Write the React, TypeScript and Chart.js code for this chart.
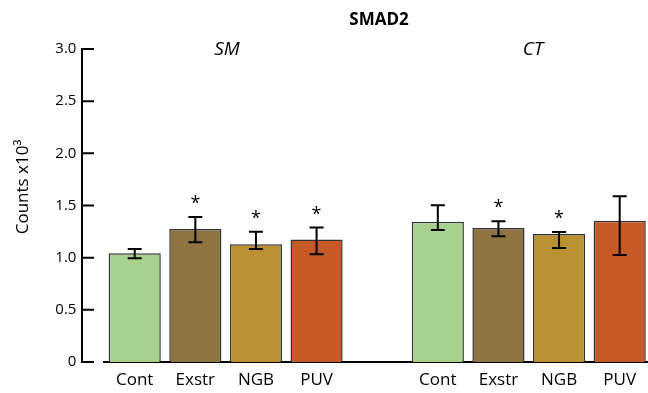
import React, { useEffect, useRef } from "react";
import { Chart, registerables } from "chart.js";

Chart.register(...registerables);

const chartTitle = "SMAD2";
const groupNames = ["SM", "CT"];
const treatments = ["Cont", "Exstr", "NGB", "PUV"];
const treatmentColors = ["#a9d18e", "#8f7443", "#bb9231", "#c55a28"];

const smValues = [1.042, 1.275, 1.128, 1.173];
const ctValues = [1.345, 1.285, 1.227, 1.355];
const smErrHigh = [1.083, 1.39, 1.249, 1.288];
const ctErrHigh = [1.502, 1.349, 1.246, 1.589];
const smErrLow = [0.994, 1.148, 1.083, 1.033];
const ctErrLow = [1.266, 1.205, 1.093, 1.026];
const smStars = [false, true, true, true];
const ctStars = [false, true, true, false];

const yMin = 0;
const yMax = 3;
const yStep = 0.5;
const yTitle = "Counts x10\u00B3";

const FONT = "'Open Sans', 'Noto Sans', sans-serif";

const labels = [...treatments, "", ...treatments];
const values: (number | null)[] = [...smValues, null, ...ctValues];
const errHigh: (number | null)[] = [...smErrHigh, null, ...ctErrHigh];
const errLow: (number | null)[] = [...smErrLow, null, ...ctErrLow];
const stars: boolean[] = [...smStars, false, ...ctStars];
const colors = [...treatmentColors, "rgba(0,0,0,0)", ...treatmentColors];

const decorPlugin = {
  id: "decor",
  afterDatasetsDraw(chart: any) {
    const ctx = chart.ctx;
    const y = chart.scales.y;
    const meta = chart.getDatasetMeta(0);
    ctx.save();
    ctx.strokeStyle = "#000";
    ctx.lineWidth = 2;
    // error bars
    meta.data.forEach((bar: any, i: number) => {
      if (values[i] == null || errHigh[i] == null || errLow[i] == null) return;
      const x = bar.x;
      const yh = y.getPixelForValue(errHigh[i] as number);
      const yl = y.getPixelForValue(errLow[i] as number);
      ctx.beginPath();
      ctx.moveTo(x, yh);
      ctx.lineTo(x, yl);
      ctx.moveTo(x - 7, yh);
      ctx.lineTo(x + 7, yh);
      ctx.moveTo(x - 7, yl);
      ctx.lineTo(x + 7, yl);
      ctx.stroke();
      if (stars[i]) {
        ctx.fillStyle = "#000";
        ctx.font = `18px ${FONT}`;
        ctx.textAlign = "center";
        ctx.textBaseline = "alphabetic";
        ctx.fillText("*", x, yh - 8);
      }
    });
    // y axis line with inward ticks
    const ax = 82;
    const ticks: number[] = [];
    for (let v = yMin; v <= yMax + 1e-9; v += yStep) ticks.push(v);
    ctx.beginPath();
    ctx.moveTo(ax, y.getPixelForValue(yMin) + 1);
    ctx.lineTo(ax, y.getPixelForValue(yMax) - 1);
    ticks.forEach((v) => {
      const py = y.getPixelForValue(v);
      ctx.moveTo(ax - 1, py);
      ctx.lineTo(ax + 12, py);
    });
    ctx.stroke();
    // texts
    ctx.fillStyle = "#000";
    ctx.textAlign = "center";
    ctx.textBaseline = "middle";
    ctx.font = `bold 17px ${FONT}`;
    ctx.fillText(chartTitle, 379, 20);
    ctx.font = `italic 19px ${FONT}`;
    ctx.fillText(groupNames[0], 227, 50);
    ctx.fillText(groupNames[1], 533, 50);
    ctx.save();
    ctx.translate(23, 187);
    ctx.rotate(-Math.PI / 2);
    ctx.font = `17px ${FONT}`;
    ctx.fillText(yTitle, 0, 0);
    ctx.restore();
    ctx.restore();
  },
};

export default function App() {
  const ref = useRef<HTMLCanvasElement | null>(null);
  useEffect(() => {
    if (!ref.current) return;
    const chart = new Chart(ref.current, {
      type: "bar",
      data: {
        labels,
        datasets: [
          {
            data: values,
            backgroundColor: colors,
            borderColor: "#333",
            borderWidth: 1.5,
            barPercentage: 0.86,
            categoryPercentage: 1,
          },
        ],
      },
      options: {
        responsive: false,
        animation: false,
        devicePixelRatio: 1,
        layout: { padding: { top: 49, left: 0, right: 0, bottom: 0 } },
        plugins: { legend: { display: false }, tooltip: { enabled: false }, title: { display: false } },
        scales: {
          x: {
            grid: { display: false, drawTicks: false },
            border: { display: true, color: "#000", width: 2 },
            ticks: { color: "#000", font: { family: FONT, size: 17 }, padding: 8, maxRotation: 0, autoSkip: false },
            afterFit: (s: any) => {
              s.height = 31;
            },
          },
          y: {
            min: yMin,
            max: yMax,
            grid: { display: false, drawTicks: false },
            border: { display: false },
            ticks: {
              stepSize: yStep,
              color: "#000",
              font: { family: FONT, size: 15 },
              padding: 28,
              callback: (v: any) => (Number(v) === 0 ? "0" : Number(v).toFixed(1)),
            },
            afterFit: (s: any) => {
              s.width = 104.4;
              s.paddingTop = 10;
              s.paddingBottom = 10;
            },
          },
        },
      },
      plugins: [decorPlugin],
    });
    return () => chart.destroy();
  }, []);
  return (
    <div style={{ position: "absolute", left: 0, top: 0, width: 648, height: 393, overflow: "hidden", background: "#fff" }}>
      <canvas ref={ref} width={650} height={393} style={{ width: 650, height: 393 }} />
    </div>
  );
}
